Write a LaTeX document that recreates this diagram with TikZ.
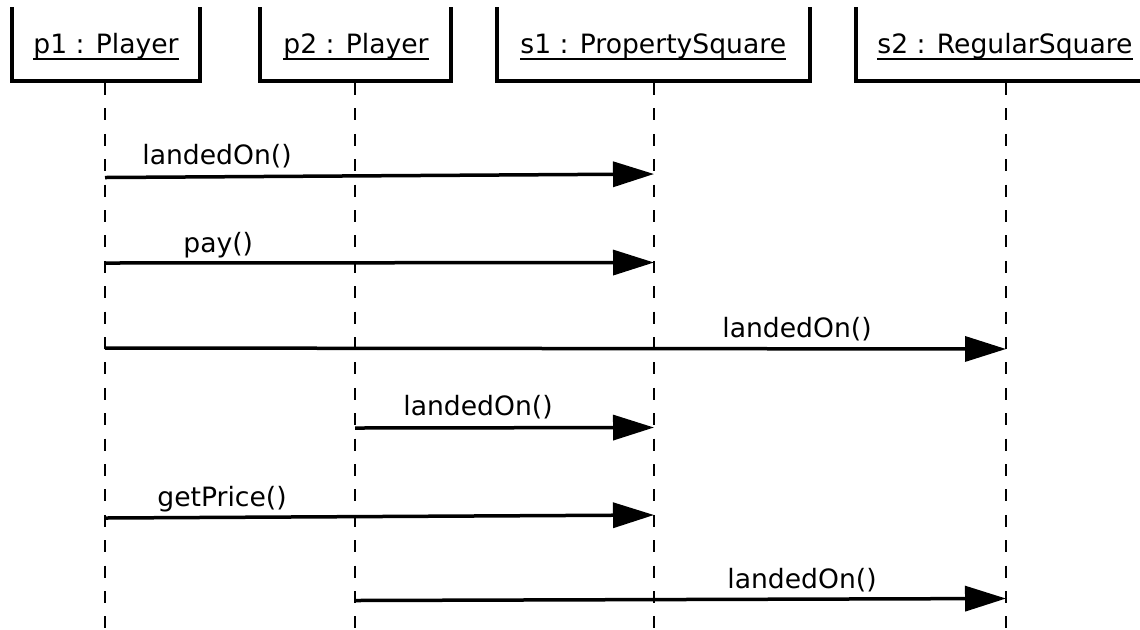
\documentclass[tikz,border=0pt]{standalone}
\usepackage{fontspec}
\setmainfont{DejaVu Sans}
\usetikzlibrary{arrows.meta}
\begin{document}
\begin{tikzpicture}[x=0.5pt,y=-0.5pt,
  lbox/.style={line width=1.9pt},
  life/.style={line width=0.8pt, dash pattern=on 6pt off 6.7pt},
  msg/.style={line width=1.75pt, -{Triangle[length=20.5pt,width=12.5pt]}},
  ttl/.style={inner sep=0pt, anchor=base west, font=\fontsize{13.3}{16}\selectfont},
  lbl/.style={inner sep=0pt, anchor=base west, font=\fontsize{13.3}{16}\selectfont},
  uline/.style={line width=0.65pt}]
\useasboundingbox (0,0) rectangle (1140,629);
% object boxes (top cut off)
\draw[lbox] (12,7) -- (12,81) -- (200,81) -- (200,7);
\draw[lbox] (260,7) -- (260,81) -- (451,81) -- (451,7);
\draw[lbox] (497,7) -- (497,81) -- (810,81) -- (810,7);
\draw[lbox] (856,7) -- (856,81) -- (1145,81);
% titles
\node[ttl] (t1) at (33,53) {p1 : Player};
\node[ttl] (t2) at (283,53) {p2 : Player};
\node[ttl] (t3) at (520,53) {s1 : PropertySquare};
\node[ttl] (t4) at (877,53) {s2 : RegularSquare};
\foreach \t in {t1,t2,t3,t4}{\draw[uline] (\t.south west) -- (\t.south east);}
% lifelines
\coordinate (L1) at (105,83);  \coordinate (B1) at (105,629);
\coordinate (L2) at (355,83);  \coordinate (B2) at (355,629);
\coordinate (L3) at (654,83);  \coordinate (B3) at (654,629);
\coordinate (L4) at (1006,83); \coordinate (B4) at (1006,629);
\draw[life] (L1) -- (B1);
\draw[life] (L2) -- (B2);
\draw[life] (L3) -- (B3);
\draw[life] (L4) -- (B4);
% messages
\draw[msg] (L1 |- 0,177.5) -- (L3 |- 0,174);
\node[lbl] (m1) at (142,164) {landedOn()};
\draw[msg] (L1 |- 0,263) -- (L3 |- 0,262.5);
\node[lbl] (m2) at (183,252) {pay()};
\draw[msg] (L1 |- 0,348) -- (L4 |- 0,349);
\node[lbl] (m3) at (722,337) {landedOn()};
\draw[msg] (L2 |- 0,428) -- (L3 |- 0,427.5);
\node[lbl] (m4) at (403,415) {landedOn()};
\draw[msg] (L1 |- 0,518) -- (L3 |- 0,515);
\node[lbl] (m5) at (157,506) {getPrice()};
\draw[msg] (L2 |- 0,600.5) -- (L4 |- 0,598.5);
\node[lbl] (m6) at (727,588) {landedOn()};
\end{tikzpicture}
\end{document}
